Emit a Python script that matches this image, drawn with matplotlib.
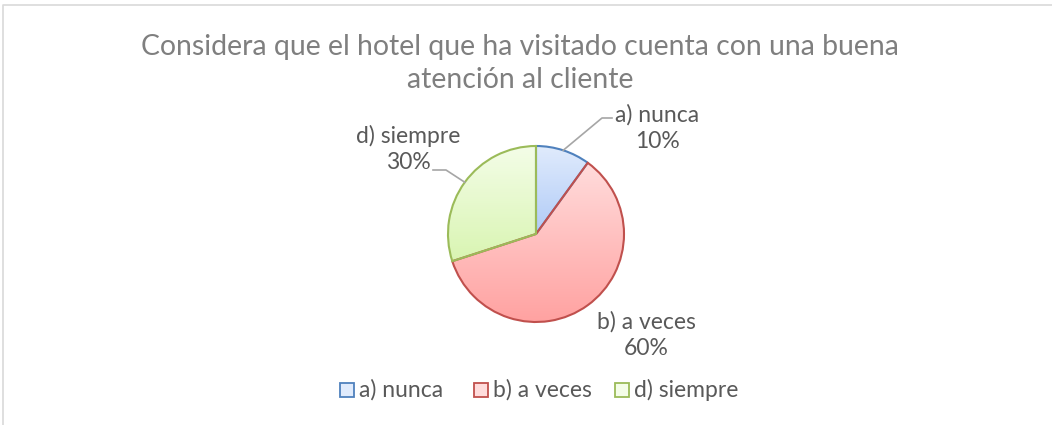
import numpy as np
import matplotlib
matplotlib.use("Agg")
import matplotlib.pyplot as plt
from matplotlib.colors import LinearSegmentedColormap

# ---- data ----
title = "Considera que el hotel que ha visitado cuenta con una buena\natención al cliente"
categories = ["a) nunca", "b) a veces", "d) siempre"]
values = [10, 60, 30]
pct_labels = ["10%", "60%", "30%"]

edge_colors = ["#4f81bd", "#c0504d", "#9bbb59"]
grad_top = ["#e0ebfc", "#ffdcdc", "#f4fde8"]
grad_bot = ["#b0cbf7", "#ffa2a1", "#d9f5b2"]

W, H = 1052, 425
fig = plt.figure(figsize=(W / 100, H / 100), dpi=100)
ax = fig.add_axes([0, 0, 1, 1])

FONT = "Lato"
TXT = "#595959"
TTL = "#7f7f7f"

cx, cy, r = 536, H - 234, 88
wedges, _ = ax.pie(values, startangle=90, counterclock=False, radius=r,
                   center=(cx, cy), wedgeprops=dict(linewidth=1.5))
ax.set_xlim(0, W)
ax.set_ylim(0, H)
ax.set_aspect("equal")
ax.axis("off")

# gradient fills clipped to wedges
for w, ec, t, b in zip(wedges, edge_colors, grad_top, grad_bot):
    w.set_facecolor("none")
    w.set_edgecolor(ec)
    w.set_zorder(3)
    ext = w.get_path().get_extents()
    x0, y0, x1, y1 = ext.x0, ext.y0, ext.x1, ext.y1
    cmap = LinearSegmentedColormap.from_list("g", [b, t])
    grad = np.linspace(0, 1, 256).reshape(-1, 1)
    im = ax.imshow(grad, cmap=cmap, origin="lower", aspect="auto",
                   extent=(x0, x1, y0, y1), zorder=2, interpolation="bilinear")
    im.set_clip_path(w)
ax.set_xlim(0, W)
ax.set_ylim(0, H)

# labels with leader lines
angles = []
start = 90.0
total = sum(values)
for v in values:
    span = 360.0 * v / total
    angles.append(start - span / 2)
    start -= span

label_pos = [(657, 128), (646, 335), (408, 149)]
for i, (cat, pct) in enumerate(zip(categories, pct_labels)):
    lx, ly = label_pos[i]
    ax.text(lx, H - ly, f"{cat}\n{pct}", ha="center", va="center",
            fontsize=16.5, color=TXT, family=FONT, linespacing=1.33, zorder=5)
    a = np.deg2rad(angles[i])
    px, py = cx + r * np.cos(a), cy + r * np.sin(a)
    if i == 0:
        ax.plot([px, 602, 612], [py, H - 118, H - 118], color="#a6a6a6", lw=1.2, zorder=4)
    elif i == 2:
        ax.plot([px, 446, 433], [py, H - 170, H - 170], color="#a6a6a6", lw=1.2, zorder=4)

# title
ax.text(520, H - 63.5, title, ha="center", va="center", fontsize=20.4,
        color=TTL, family=FONT, linespacing=1.3)

# legend
leg_items = [(340, 0), (474, 1), (615, 2)]
for x, i in leg_items:
    ax.add_patch(plt.Rectangle((x, H - 397), 14, 14, facecolor=grad_top[i],
                               edgecolor=edge_colors[i], lw=1.3, zorder=5))
    ax.text(x + 19, H - 390, categories[i], ha="left", va="center",
            fontsize=16.5, color=TXT, family=FONT)

# chart frame (partially visible)
ax.plot([3, 3, W], [0, H - 5, H - 5], color="#d9d9d9", lw=1.2)

fig.savefig("out.png", dpi=100)
